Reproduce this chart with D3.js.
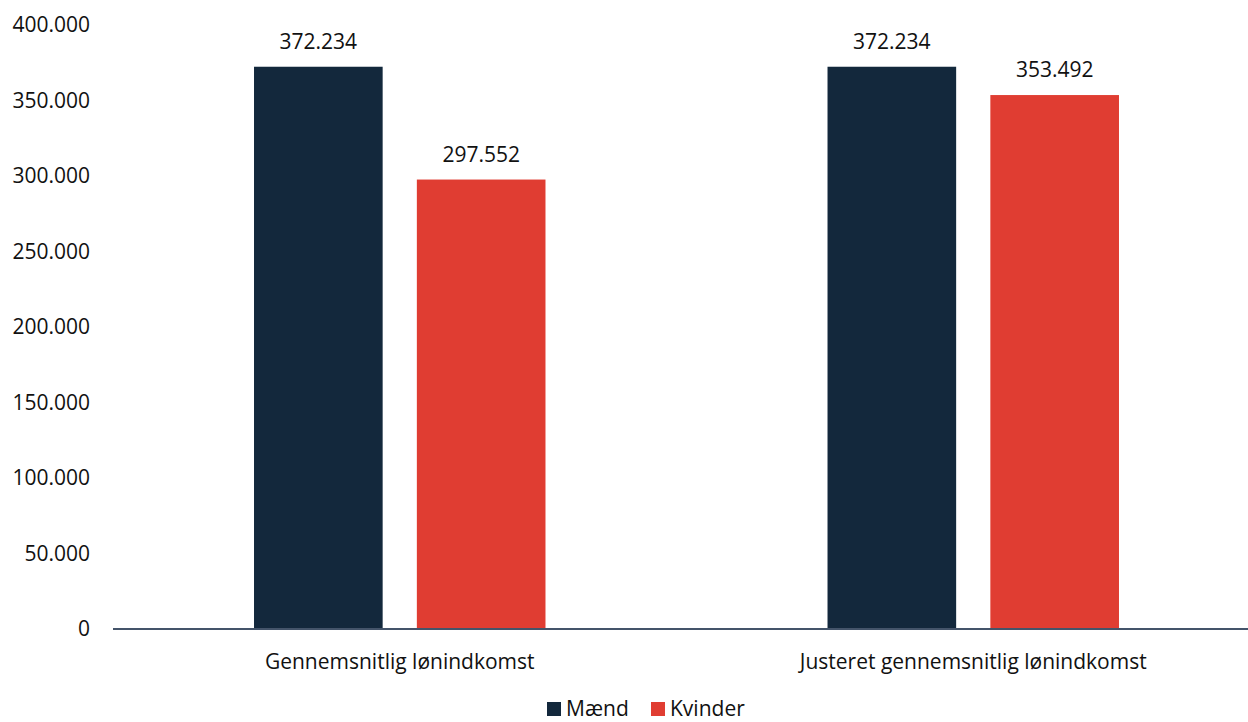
<!DOCTYPE html>
<html>
<head>
<meta charset="utf-8">
<script src="https://cdn.jsdelivr.net/npm/d3@7"></script>
<style>
  html, body { margin: 0; padding: 0; background: #fff; }
  svg { display: block; font-family: "Open Sans", "Noto Sans", sans-serif; }
</style>
</head>
<body>
<div id="chart"></div>
<script>
const categories = ['Gennemsnitlig lønindkomst', 'Justeret gennemsnitlig lønindkomst'];
const series = ['Mænd', 'Kvinder'];
const maendValues = [372234, 372234];
const kvinderValues = [297552, 353492];
const yTicks = [0, 50000, 100000, 150000, 200000, 250000, 300000, 350000, 400000];
const colors = ['#13283c', '#e03d32'];

const width = 1248;
const height = 722;
const fontSize = 21;
const fmt = v => d3.format(',')(v).replace(/,/g, '.');

const data = categories.map((c, i) => ({
  category: c,
  values: [
    { key: series[0], value: maendValues[i] },
    { key: series[1], value: kvinderValues[i] },
  ],
}));

const svg = d3.select('#chart')
  .append('svg')
  .attr('width', width)
  .attr('height', height);

const y = d3.scaleLinear()
  .domain([0, 400000])
  .range([629, 24.8]);

const x0 = d3.scaleBand()
  .domain(categories)
  .range([113, 1260]);

const x1 = d3.scaleBand()
  .domain(series)
  .range([0, x0.bandwidth()])
  .paddingInner(0.21)
  .paddingOuter(0.866);

const color = d3.scaleOrdinal().domain(series).range(colors);

// y axis labels, no line
const yAxis = svg.append('g')
  .attr('transform', 'translate(90,0)')
  .call(d3.axisLeft(y).tickValues(yTicks).tickFormat(fmt).tickSize(0).tickPadding(0));
yAxis.select('.domain').remove();
yAxis.selectAll('text')
  .attr('font-family', '"Open Sans", "Noto Sans", sans-serif')
  .attr('font-size', fontSize)
  .attr('fill', '#111');

// bars
const groups = svg.append('g')
  .selectAll('g')
  .data(data)
  .enter()
  .append('g')
  .attr('transform', d => `translate(${x0(d.category)},0)`);

groups.selectAll('rect')
  .data(d => d.values)
  .enter()
  .append('rect')
  .attr('x', d => x1(d.key))
  .attr('y', d => y(d.value))
  .attr('width', x1.bandwidth())
  .attr('height', d => y(0) - y(d.value))
  .attr('fill', d => color(d.key));

groups.selectAll('text')
  .data(d => d.values)
  .enter()
  .append('text')
  .attr('x', d => x1(d.key) + x1.bandwidth() / 2)
  .attr('y', d => y(d.value) - 18)
  .attr('text-anchor', 'middle')
  .attr('font-size', fontSize)
  .attr('fill', '#111')
  .text(d => fmt(d.value));

// baseline
svg.append('line')
  .attr('x1', 113)
  .attr('x2', width)
  .attr('y1', y(0))
  .attr('y2', y(0))
  .attr('stroke', '#44546a')
  .attr('stroke-width', 2);

// category labels
svg.append('g')
  .selectAll('text')
  .data(categories)
  .enter()
  .append('text')
  .attr('x', d => x0(d) + x0.bandwidth() / 2)
  .attr('y', 669)
  .attr('text-anchor', 'middle')
  .attr('font-size', fontSize)
  .attr('fill', '#111')
  .text(d => d);

// legend
const legendX = [547, 651];
const legend = svg.append('g')
  .selectAll('g')
  .data(series)
  .enter()
  .append('g')
  .attr('transform', (d, i) => `translate(${legendX[i]},702)`);

legend.append('rect')
  .attr('width', 14)
  .attr('height', 14)
  .attr('fill', d => color(d));

legend.append('text')
  .attr('x', 19)
  .attr('y', 14)
  .attr('font-size', fontSize)
  .attr('fill', '#111')
  .text(d => d);
</script>
</body>
</html>
